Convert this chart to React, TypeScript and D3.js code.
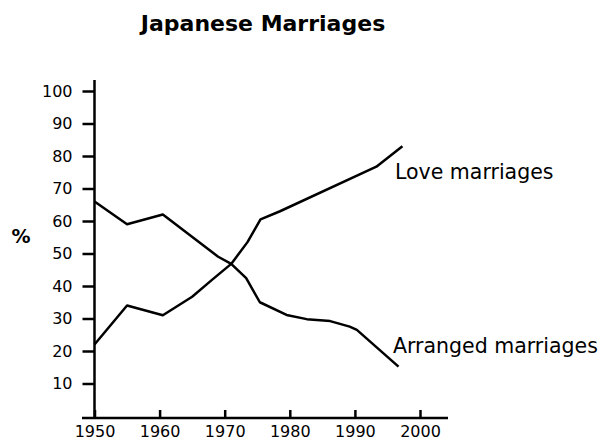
import React, { useRef, useEffect } from "react";
import * as d3 from "d3";

const loveYears = [1950, 1955, 1960.5, 1965, 1968, 1971, 1973.5, 1975.5, 1978.5, 1993.3, 1997.3];
const loveValues = [22, 34, 31, 36.7, 41.8, 46.8, 53.5, 60.5, 63, 76.7, 83];

const arrangedYears = [1950, 1955, 1960.5, 1969, 1971, 1973.3, 1975.4, 1979.5, 1982.6, 1986.2, 1989.2, 1990.3, 1996.7];
const arrangedValues = [66, 59, 62, 49, 46.8, 42.4, 35, 31.1, 29.8, 29.2, 27.5, 26.5, 15.2];

const yTicks = [10, 20, 30, 40, 50, 60, 70, 80, 90, 100];
const xTicks = [1950, 1960, 1970, 1980, 1990, 2000];

const FONT = "'DejaVu Sans', sans-serif";

export default function App() {
  const ref = useRef<SVGSVGElement>(null);

  useEffect(() => {
    const svg = d3.select(ref.current);
    svg.selectAll("*").remove();

    const x = d3.scaleLinear().domain([1950, 2000]).range([94.5, 420]);
    const y = d3.scaleLinear().domain([0, 100]).range([416, 91]);

    // title
    svg.append("text")
      .attr("x", 263).attr("y", 31)
      .attr("text-anchor", "middle")
      .style("font-family", FONT)
      .style("font-weight", "bold")
      .style("font-size", "22px")
      .text("Japanese Marriages");

    // y axis
    const yAxis = svg.append("g")
      .attr("transform", `translate(${x(1950)},0)`)
      .call(d3.axisLeft(y).tickValues(yTicks).tickSize(12).tickSizeOuter(0).tickPadding(10));
    yAxis.select(".domain").remove();
    yAxis.selectAll("line").attr("stroke", "#000").attr("stroke-width", 2.5);
    yAxis.selectAll("text").style("font-family", FONT).style("font-size", "16px").attr("fill", "#000");

    // x axis
    const xAxis = svg.append("g")
      .attr("transform", "translate(0,418)")
      .call(d3.axisBottom(x).tickValues(xTicks).tickFormat(d3.format("d")).tickSize(-8).tickSizeOuter(0).tickPadding(8));
    xAxis.select(".domain").remove();
    xAxis.selectAll("line").attr("stroke", "#000").attr("stroke-width", 2.5);
    xAxis.selectAll("text").style("font-family", FONT).style("font-size", "16px").attr("fill", "#000");

    svg.append("line")
      .attr("x1", 82).attr("x2", 448).attr("y1", 418).attr("y2", 418)
      .attr("stroke", "#000").attr("stroke-width", 2.5);
    svg.append("line")
      .attr("x1", x(1950)).attr("x2", x(1950)).attr("y1", 80).attr("y2", 419)
      .attr("stroke", "#000").attr("stroke-width", 2.5);

    svg.append("text")
      .attr("x", 21).attr("y", 243)
      .attr("text-anchor", "middle")
      .style("font-family", FONT)
      .style("font-weight", "bold")
      .style("font-size", "19px")
      .text("%");

    const line = d3.line<[number, number]>()
      .x(d => x(d[0]))
      .y(d => y(d[1]));

    const series = [
      { years: loveYears, values: loveValues },
      { years: arrangedYears, values: arrangedValues },
    ];
    series.forEach(s => {
      svg.append("path")
        .datum(s.years.map((yr, i) => [yr, s.values[i]] as [number, number]))
        .attr("d", line)
        .attr("fill", "none")
        .attr("stroke", "#000")
        .attr("stroke-width", 2.5)
        .attr("stroke-linejoin", "round");
    });

    svg.append("text")
      .attr("x", 395).attr("y", 179)
      .style("font-family", FONT)
      .style("font-size", "20.5px")
      .text("Love marriages");
    svg.append("text")
      .attr("x", 393).attr("y", 353)
      .style("font-family", FONT)
      .style("font-size", "20.5px")
      .text("Arranged marriages");
  }, []);

  return (
    <svg
      ref={ref}
      width={603}
      height={442}
      style={{ position: "absolute", left: 0, top: 0, background: "#fff" }}
    />
  );
}
